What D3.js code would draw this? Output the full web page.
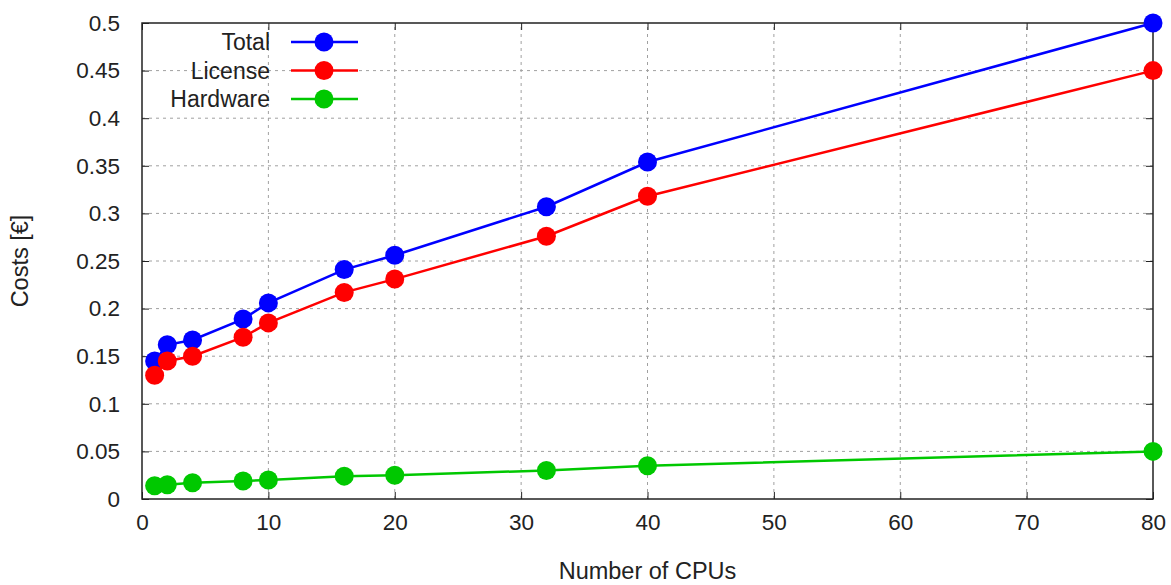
<!DOCTYPE html>
<html>
<head>
<meta charset="utf-8">
<script src="https://cdn.jsdelivr.net/npm/d3@7"></script>
<style>
  body { margin: 0; background: #fff; }
  text { font-family: "Liberation Sans", Arial, sans-serif; fill: #222; }
</style>
</head>
<body>
<svg id="chart"></svg>
<script>
// CPU counts on the x axis
const cpus = [1, 2, 4, 8, 10, 16, 20, 32, 40, 80];

// cost per series, in euro
const totalCosts = [0.145, 0.162, 0.167, 0.189, 0.206, 0.241, 0.256, 0.307, 0.354, 0.5];
const licenseCosts = [0.13, 0.145, 0.15, 0.17, 0.185, 0.217, 0.231, 0.276, 0.318, 0.45];
const hardwareCosts = [0.014, 0.015, 0.017, 0.019, 0.02, 0.024, 0.025, 0.03, 0.035, 0.05];

const seriesNames = ["Total", "License", "Hardware"];
const seriesColors = ["#0000ff", "#ff0000", "#00c800"];

const xTicks = [0, 10, 20, 30, 40, 50, 60, 70, 80];
const yTicks = [0, 0.05, 0.1, 0.15, 0.2, 0.25, 0.3, 0.35, 0.4, 0.45, 0.5];

const width = 1171, height = 585;
const margin = { top: 23, right: 18, bottom: 86, left: 142 };

const svg = d3.select("#chart")
  .attr("width", width)
  .attr("height", height);

const x = d3.scaleLinear().domain([0, 80]).range([margin.left, width - margin.right]);
const y = d3.scaleLinear().domain([0, 0.5]).range([height - margin.bottom, margin.top]);

// grid lines
svg.append("g")
  .selectAll("line.vg")
  .data(xTicks.slice(1, -1))
  .enter().append("line")
  .attr("x1", d => x(d)).attr("x2", d => x(d))
  .attr("y1", y(0)).attr("y2", y(0.5))
  .attr("stroke", "#a0a0a0").attr("stroke-width", 1)
  .attr("stroke-dasharray", "3,4");

svg.append("g")
  .selectAll("line.hg")
  .data(yTicks.slice(1, -1))
  .enter().append("line")
  .attr("x1", x(0)).attr("x2", x(80))
  .attr("y1", d => y(d)).attr("y2", d => y(d))
  .attr("stroke", "#a0a0a0").attr("stroke-width", 1)
  .attr("stroke-dasharray", "3,4");

// axes with inward ticks
const tickStyle = g => {
  g.select(".domain").remove();
  g.selectAll(".tick line").attr("stroke", "#222");
  g.selectAll(".tick text").style("font-size", "22.5px").attr("fill", "#222");
};

svg.append("g")
  .attr("transform", `translate(0,${y(0)})`)
  .call(d3.axisBottom(x).tickValues(xTicks).tickSize(-7).tickPadding(15).tickFormat(d3.format("d")))
  .call(tickStyle);

svg.append("g")
  .attr("transform", `translate(0,${y(0.5)})`)
  .call(d3.axisTop(x).tickValues(xTicks).tickSize(-7).tickFormat(""))
  .call(tickStyle);

svg.append("g")
  .attr("transform", `translate(${x(0)},0)`)
  .call(d3.axisLeft(y).tickValues(yTicks).tickSize(-7).tickPadding(22).tickFormat(d => d3.format("")(+d.toFixed(2))))
  .call(tickStyle);

svg.append("g")
  .attr("transform", `translate(${x(80)},0)`)
  .call(d3.axisRight(y).tickValues(yTicks).tickSize(-7).tickFormat(""))
  .call(tickStyle);

// frame
svg.append("rect")
  .attr("x", x(0)).attr("y", y(0.5))
  .attr("width", x(80) - x(0)).attr("height", y(0) - y(0.5))
  .attr("fill", "none").attr("stroke", "#222").attr("stroke-width", 1.5);

// axis titles
svg.append("text")
  .attr("x", (x(0) + x(80)) / 2).attr("y", 579)
  .attr("text-anchor", "middle")
  .style("font-size", "23.5px")
  .text("Number of CPUs");

svg.append("text")
  .attr("transform", `translate(28,${(y(0) + y(0.5)) / 2}) rotate(-90)`)
  .attr("text-anchor", "middle")
  .style("font-size", "23.5px")
  .text("Costs [€]");

// series
const allSeries = [totalCosts, licenseCosts, hardwareCosts];

const line = d3.line()
  .x((d, i) => x(cpus[i]))
  .y(d => y(d));

allSeries.forEach((vals, s) => {
  const g = svg.append("g");
  g.append("path")
    .datum(vals)
    .attr("d", line)
    .attr("fill", "none")
    .attr("stroke", seriesColors[s])
    .attr("stroke-width", 2.5);
  g.selectAll("circle")
    .data(vals)
    .enter().append("circle")
    .attr("cx", (d, i) => x(cpus[i]))
    .attr("cy", d => y(d))
    .attr("r", 9.5)
    .attr("fill", seriesColors[s]);
});

// legend
const legend = svg.append("g");
seriesNames.forEach((name, i) => {
  const ly = 42 + i * 28.5;
  legend.append("text")
    .attr("x", 270).attr("y", ly)
    .attr("dy", "0.35em")
    .attr("text-anchor", "end")
    .style("font-size", "23px")
    .text(name);
  legend.append("line")
    .attr("x1", 291).attr("x2", 358)
    .attr("y1", ly).attr("y2", ly)
    .attr("stroke", seriesColors[i]).attr("stroke-width", 2.5);
  legend.append("circle")
    .attr("cx", 324).attr("cy", ly).attr("r", 9.5)
    .attr("fill", seriesColors[i]);
});
</script>
</body>
</html>
